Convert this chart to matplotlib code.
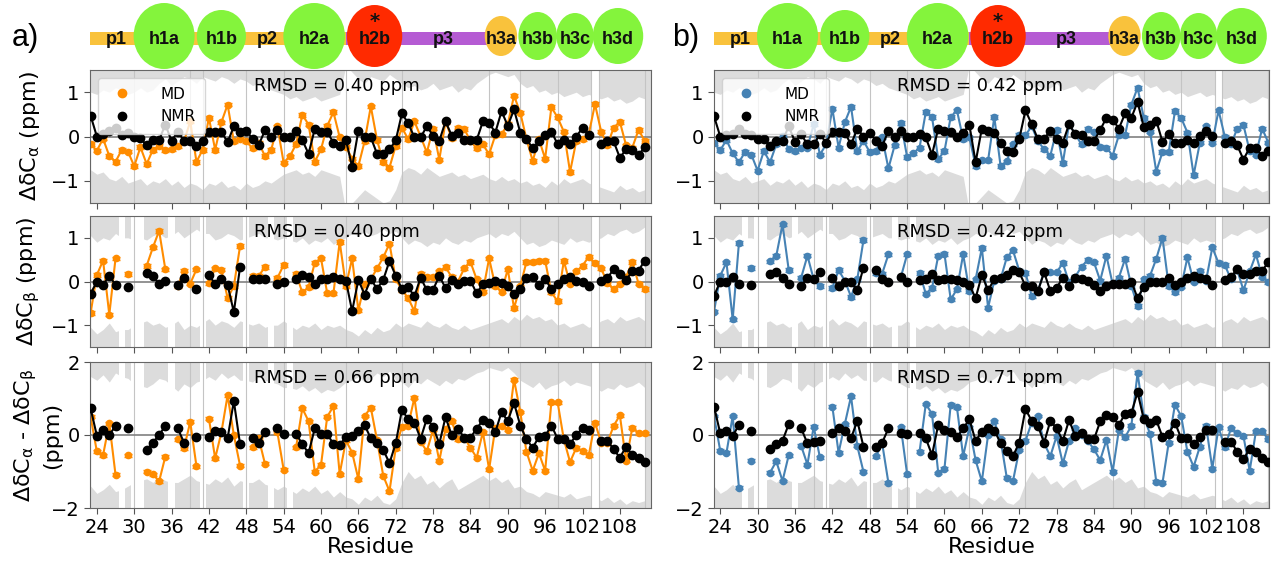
import numpy as np
import matplotlib.pyplot as plt
from matplotlib.patches import Ellipse, Rectangle
from matplotlib.lines import Line2D

nan = np.nan
residues = np.arange(23, 113)

# ---------- NMR (panel a) ----------
nmr_a_ca = [0.47, 0.0, 0.06, 0.13, 0.19, 0.03, 0.09, -0.02, -0.04, -0.2,
            -0.08, -0.08, 0.27, -0.1, 0.11, -0.1, -0.1, -0.21, -0.11, 0.11,
            0.11, 0.11, -0.13, 0.23, 0.11, 0.13, -0.05, -0.19, 0.14, -0.02,
            0.14, -0.02, -0.02, 0.13, -0.08, -0.39, 0.17, 0.11, 0.10, -0.14,
            -0.21, -0.08, -0.68, 0.13, 0.0, -0.02, -0.39, -0.39, -0.29, -0.09,
            0.52, 0.30, -0.02, -0.02, 0.23, 0.02, -0.1, 0.34, 0.02, 0.09,
            -0.08, -0.08, -0.08, 0.34, 0.30, 0.09, 0.57, 0.24, 0.61, 0.09,
            -0.05, -0.27, -0.11, 0.04, 0.11, -0.17, -0.08, -0.17, 0.0, 0.19,
            0.04, nan, -0.17, -0.11, -0.11, -0.48, -0.29, -0.30, -0.42, -0.24]
nmr_a_cb = [-0.28, 0.0, -0.08, 0.13, -0.08, nan, -0.13, nan, nan, 0.2,
            0.13, -0.06, 0.02, nan, -0.09, 0.08, nan, -0.17, nan, 0.14,
            -0.05, 0.05, -0.08, -0.70, 0.33, nan, 0.05, 0.05, 0.05, nan,
            -0.06, -0.02, nan, 0.06, 0.15, 0.10, -0.05, 0.05, 0.05, 0.11,
            0.05, 0.02, -0.68, 0.04, -0.30, 0.06, -0.17, 0.04, 0.47, 0.13,
            -0.17, -0.13, -0.34, 0.09, -0.2, -0.19, 0.13, -0.15, 0.04, -0.06,
            0.02, 0.02, -0.27, -0.06, -0.04, 0.02, -0.04, -0.1, -0.28, -0.17,
            0.08, 0.10, -0.08, 0.05, -0.17, -0.05, 0.05, 0.10, 0.02, 0.0,
            -0.11, nan, 0.02, 0.08, 0.28, 0.17, 0.04, 0.23, 0.25, 0.48]
nmr_a_diff = [0.73, -0.02, 0.14, 0.0, 0.25, nan, 0.2, nan, nan, -0.41,
              -0.21, 0.0, 0.25, nan, 0.18, -0.21, nan, -0.05, nan, -0.05,
              0.12, 0.09, -0.09, 0.93, -0.25, nan, -0.09, -0.23, 0.09, nan,
              0.18, 0.03, nan, 0.03, -0.25, -0.5, 0.18, 0.03, 0.03, -0.25,
              -0.27, -0.06, -0.03, 0.12, 0.27, -0.09, -0.23, -0.41, -0.77, -0.23,
              0.69, 0.43, 0.34, -0.1, 0.45, 0.23, -0.24, 0.49, -0.01, 0.17,
              -0.07, -0.07, 0.17, 0.41, 0.34, 0.08, 0.63, 0.38, 0.88, 0.26,
              -0.12, -0.35, -0.05, -0.03, 0.26, -0.1, -0.1, -0.24, -0.01, 0.2,
              0.14, nan, -0.16, -0.16, -0.39, -0.62, -0.32, -0.55, -0.62, -0.73]

# ---------- MD (panel a) ----------
md_a_ca = [-0.17, -0.32, -0.05, -0.44, -0.57, -0.3, -0.34, -0.67, -0.24, -0.62,
           -0.30, -0.21, -0.30, -0.29, -0.21, -0.11, 0.34, -0.57, -0.30, 0.42,
           -0.30, 0.32, 0.72, -0.11, -0.05, -0.11, -0.27, -0.15, -0.44, -0.30,
           0.23, -0.59, -0.45, -0.17, 0.49, 0.27, -0.57, -0.29, 0.24, 0.55,
           -0.02, -0.23, -0.5, -0.67, -0.11, 0.68, -0.08, -0.57, -0.70, -0.21,
           0.20, -0.06, 0.34, 0.0, -0.36, 0.18, -0.52, 0.33, -0.03, 0.20,
           0.17, -0.10, -0.27, -0.18, -0.40, 0.03, 0.05, 0.28, 0.92, 0.54,
           -0.06, -0.55, -0.06, -0.50, 0.66, 0.43, 0.11, -0.80, -0.10, -0.06,
           0.05, 0.73, 0.11, -0.20, 0.20, 0.33, -0.20, -0.25, 0.15, -0.10]
md_a_cb = [-0.72, 0.15, 0.48, -0.76, 0.53, nan, 0.17, nan, nan, 0.36,
           0.78, 1.16, 0.28, nan, -0.1, 0.25, -0.05, 0.28, nan, -0.04,
           0.30, 0.27, -0.38, -0.11, 0.81, nan, 0.13, 0.13, 0.33, nan,
           0.08, 0.38, nan, 0.17, -0.25, -0.13, 0.43, 0.53, -0.27, -0.27,
           0.91, -0.1, 0.53, -0.66, -0.05, 0.05, 0.3, 0.55, 0.87, 0.05,
           -0.19, -0.38, -0.68, 0.17, 0.10, 0.10, 0.23, 0.33, 0.10, 0.0,
           0.30, 0.45, 0.05, -0.23, 0.53, -0.11, -0.23, 0.28, -0.61, -0.11,
           0.45, 0.45, 0.48, 0.48, -0.25, -0.45, 0.47, -0.05, 0.23, 0.36,
           0.57, 0.42, 0.30, -0.04, -0.17, -0.05, 0.10, 0.45, -0.05, -0.17]
md_a_diff = [0.5, -0.45, -0.55, 0.32, -1.09, nan, -0.55, nan, nan, -1.0,
             -1.07, -1.27, -0.59, nan, -0.12, -0.36, 0.36, -0.86, nan, 0.45,
             -0.64, 0.07, 1.09, 0.0, -0.84, nan, -0.34, -0.09, -0.79, nan,
             0.07, -0.95, nan, -0.34, 0.73, 0.38, -1.0, -0.82, 0.5, 0.79,
             -1.07, -0.15, -0.48, -1.21, 0.52, 0.75, -0.14, -1.12, -1.54, -0.36,
             0.23, 0.26, 1.02, -0.19, -0.44, 0.14, -0.71, 0.17, 0.38, -0.12,
             -0.07, -0.35, -0.62, 0.08, -0.94, 0.2, 0.26, 0.15, 1.52, 0.63,
             -0.46, -0.98, -0.5, -0.98, 0.9, 0.9, -0.12, -0.74, -0.35, -0.44,
             -0.56, 0.34, -0.21, -0.21, 0.25, 0.54, -0.71, 0.2, 0.05, 0.05]

# ---------- NMR (panel b) ----------
nmr_b_ca = [0.46, 0.0, 0.03, 0.05, 0.18, 0.05, 0.03, -0.05, -0.05, -0.22,
            -0.1, -0.1, 0.23, -0.12, 0.05, -0.18, -0.18, 0.05, -0.14, 0.11,
            0.11, 0.09, -0.18, 0.18, 0.0, 0.09, -0.1, -0.22, 0.13, -0.02,
            0.13, -0.02, 0.0, 0.05, -0.02, -0.41, 0.18, 0.13, 0.11, 0.0,
            0.09, 0.26, -0.58, 0.18, 0.13, 0.09, -0.14, -0.33, -0.35, -0.06,
            0.59, 0.28, -0.06, -0.05, 0.13, -0.06, -0.14, 0.28, 0.05, 0.03,
            -0.1, -0.1, 0.15, 0.42, 0.38, 0.18, 0.52, 0.42, 0.78, 0.21,
            0.25, 0.36, -0.12, 0.05, -0.15, -0.15, -0.08, -0.15, 0.02, 0.13,
            0.02, nan, -0.15, -0.1, -0.2, -0.52, -0.25, -0.25, -0.45, -0.33]
nmr_b_cb = [-0.33, 0.0, -0.02, 0.11, -0.05, nan, -0.08, nan, nan, 0.18,
            0.21, 0.08, -0.05, nan, -0.1, 0.09, 0.05, 0.22, nan, 0.08,
            -0.1, -0.02, -0.02, -0.2, 0.32, nan, 0.26, 0.05, -0.02, nan,
            0.11, -0.02, nan, 0.03, 0.05, 0.18, 0.03, 0.05, 0.05, 0.03,
            -0.02, -0.08, -0.38, 0.15, -0.2, 0.05, 0.09, 0.15, 0.26, 0.21,
            -0.1, -0.1, -0.22, 0.21, -0.22, -0.15, 0.09, -0.1, 0.09, 0.05,
            0.02, -0.08, -0.22, -0.1, -0.06, -0.06, -0.06, 0.0, -0.38, -0.12,
            0.0, 0.0, 0.0, 0.09, -0.08, -0.02, 0.09, 0.13, 0.09, 0.05,
            -0.08, nan, 0.03, 0.11, 0.28, 0.18, 0.18, 0.25, 0.25, 0.44]
nmr_b_diff = [0.78, 0.05, 0.12, -0.03, 0.28, nan, 0.12, nan, nan, -0.37,
              -0.25, -0.16, 0.3, nan, 0.18, -0.23, -0.18, -0.16, nan, 0.05,
              0.18, 0.12, -0.09, 0.39, -0.32, nan, -0.34, -0.21, 0.18, nan,
              0.05, 0.03, nan, 0.05, -0.09, -0.55, 0.28, 0.14, 0.09, -0.06,
              0.18, 0.43, -0.16, 0.09, 0.18, 0.12, -0.21, -0.43, -0.58, -0.21,
              0.71, 0.39, 0.25, -0.21, 0.39, 0.18, -0.16, 0.41, -0.03, 0.06,
              -0.12, -0.12, 0.37, 0.55, 0.49, 0.28, 0.58, 0.6, 1.17, 0.43,
              0.32, 0.41, -0.05, 0.03, 0.34, -0.09, -0.09, -0.25, -0.06, 0.14,
              0.14, nan, -0.18, -0.18, -0.46, -0.67, -0.37, -0.46, -0.64, -0.73]

# ---------- MD (panel b) ----------
md_b_ca = [-0.15, -0.31, -0.08, -0.38, -0.58, -0.35, -0.41, -0.77, -0.33, -0.58,
           -0.18, 0.02, -0.29, -0.33, -0.25, -0.25, 0.28, -0.41, -0.18, 0.63,
           -0.25, 0.32, 0.67, -0.33, -0.1, -0.35, -0.33, -0.02, -0.72, -0.2,
           0.31, -0.46, -0.38, -0.25, 0.55, 0.44, -0.51, -0.33, 0.44, 0.59,
           -0.06, -0.02, -0.66, -0.54, -0.54, 0.44, -0.66, -0.56, -0.18, 0.03,
           0.03, 0.23, -0.1, -0.29, -0.43, 0.15, -0.6, 0.28, 0.05, -0.18,
           0.17, 0.11, -0.23, -0.25, -0.43, 0.03, 0.03, 0.72, 1.1, 0.42,
           0.11, -0.79, -0.35, -0.35, 0.57, 0.42, 0.09, -0.87, -0.14, 0.23,
           -0.14, 0.59, 0.0, -0.18, 0.18, 0.26, -0.33, -0.41, 0.18, -0.14]
md_b_cb = [-0.69, 0.13, 0.44, -0.87, 0.88, nan, 0.31, nan, nan, 0.46,
           0.59, 1.31, 0.26, nan, 0.09, 0.59, 0.05, -0.1, nan, -0.15,
           0.26, 0.02, -0.35, 0.05, 0.95, nan, 0.2, 0.18, 0.62, nan,
           0.1, 0.62, nan, 0.2, -0.28, -0.15, 0.59, 0.63, -0.41, -0.18,
           0.62, -0.22, 0.05, 0.77, -0.6, 0.02, 0.05, 0.55, 0.71, 0.25,
           0.2, -0.33, -0.22, 0.23, 0.21, 0.21, 0.42, -0.02, 0.11, 0.34,
           0.49, 0.44, 0.02, 0.59, -0.06, 0.09, 0.52, -0.1, -0.56, 0.05,
           0.13, 0.52, 1.0, -0.1, -0.25, -0.12, 0.55, 0.0, 0.25, 0.02,
           0.78, 0.42, 0.38, 0.05, 0.26, -0.2, 0.23, 0.62, 0.11, -0.02]
md_b_diff = [0.52, -0.43, -0.49, 0.52, -1.44, nan, -0.71, nan, nan, -1.03,
             -0.72, -1.26, -0.55, nan, -0.3, -0.81, 0.23, -0.61, nan, 0.78,
             -0.49, 0.3, 1.06, -0.3, -1.01, nan, -0.58, -0.23, -1.31, nan,
             0.21, -1.07, nan, -0.46, 0.85, 0.58, -1.04, -0.92, 0.83, 0.76,
             -0.58, 0.21, -0.69, -1.27, 0.0, 0.37, -0.12, -1.17, -1.26, -0.41,
             -0.16, 0.34, 0.52, -0.23, -0.58, -0.03, -0.78, -0.16, 0.18, 0.0,
             -0.16, -0.39, -0.69, -0.14, -1.01, 0.14, -0.06, 0.25, 1.7, 0.5,
             0.03, -1.28, -1.31, -0.21, 0.83, 0.52, -0.46, -0.87, -0.32, 0.25,
             -0.92, 0.21, -0.34, 0.18, 0.05, -0.03, -0.98, 0.1, 0.1, -0.12]
md_err = 0.04

# ---------- white bands (expected range) ----------
band_ca_up = [1.0, 0.95, 1.05, 1.0, 1.1, 1.05, 0.95, 1.0, 1.1, 1.0,
              1.05, 1.2, 1.3, 1.15, 1.25, 1.35, 1.3, 1.2, 1.35, 1.3,
              1.25, 1.35, 1.3, 1.2, 1.3, 1.25, 1.15, 1.2, 1.1, 1.05,
              1.0, 0.95, 0.85, 0.9, 0.8, 0.85, 0.9, 0.8, 0.85, 0.9,
              0.95, 1.6, 1.45, 1.3, 1.2, 1.35, 1.3, 1.25, 1.4, 1.3,
              1.2, 1.1, 1.15, 1.05, 1.1, 1.2, 1.05, 1.1, 1.15, 1.0,
              1.1, 1.05, 1.2, 1.3, 1.4, 1.45, 1.4, 1.35, 1.4, 1.2,
              1.1, 1.15, 1.0, 1.05, 0.95, 1.0, 0.9, 0.95, 1.0, 0.9,
              0.95, 0.9, 0.85, 0.9, 0.8, 0.85, 0.75, 0.8, 0.9, 0.85]
band_ca_lo = [-0.75, -0.85, -0.8, -0.95, -1.0, -0.9, -1.05, -1.0, -0.95, -1.1,
              -1.0, -1.05, -0.95, -1.1, -1.0, -1.15, -1.05, -1.1, -1.2, -1.05,
              -1.1, -1.0, -1.15, -1.1, -1.2, -1.05, -1.15, -1.1, -1.0, -1.05,
              -0.95, -0.85, -0.8, -0.75, -0.85, -0.8, -0.9, -0.75, -0.8, -0.85,
              -0.9, -1.7, -1.5, -1.35, -1.2, -1.3, -1.4, -1.5, -1.45, -1.2,
              -0.8, -0.7, -0.75, -0.85, -0.7, -0.8, -0.9, -0.85, -0.8, -0.9,
              -0.85, -0.95, -0.9, -0.85, -0.95, -1.0, -0.9, -1.0, -0.95, -1.05,
              -1.0, -1.1, -1.05, -1.15, -1.0, -1.1, -0.95, -1.05, -1.0, -0.95,
              -1.05, -1.1, -1.15, -1.2, -1.25, -1.1, -1.2, -1.15, -1.25, -1.2]
band_cb_up = [1.05, 0.9, 1.0, 0.95, 1.1, 1.0, 1.0, 0.95, 1.0, 0.95,
              1.05, 1.1, 1.0, 1.05, 1.15, 1.0, 1.1, 1.2, 1.1, 1.1,
              0.95, 1.0, 1.1, 1.05, 0.95, 1.0, 1.05, 1.1, 1.0, 1.0,
              0.95, 1.0, 0.95, 0.9, 1.0, 0.85, 0.95, 0.9, 1.0, 0.85,
              0.95, 1.0, 1.1, 1.05, 1.15, 1.05, 1.1, 1.2, 1.1, 1.15,
              1.0, 0.85, 0.95, 0.9, 0.8, 0.9, 0.85, 1.0, 0.9, 0.85,
              0.95, 0.9, 1.0, 1.05, 1.1, 1.0, 1.1, 1.05, 1.15, 1.0,
              0.85, 0.9, 0.8, 0.85, 0.95, 0.9, 0.85, 1.0, 0.9, 0.95,
              0.9, 0.95, 1.0, 1.1, 1.05, 1.15, 1.2, 1.1, 1.15, 1.25]
band_cb_lo = [-1.05, -1.2, -1.1, -0.95, -1.15, -1.1, -1.1, -1.0, -0.95, -0.9,
              -1.0, -0.95, -1.05, -1.0, -0.9, -1.1, -1.0, -1.05, -0.95, -0.85,
              -1.0, -0.9, -0.95, -1.05, -0.9, -0.95, -1.0, -0.95, -1.05, -1.0,
              -1.0, -0.9, -1.0, -1.1, -1.0, -1.05, -0.95, -1.1, -1.0, -1.05,
              -1.0, -1.1, -1.15, -1.25, -1.1, -1.2, -1.05, -1.15, -1.1, -0.95,
              -1.05, -0.95, -1.0, -1.05, -0.9, -1.0, -1.05, -0.95, -1.05, -1.1,
              -1.0, -1.1, -1.05, -1.0, -0.95, -0.9, -0.85, -0.95, -0.8, -0.9,
              -0.75, -0.85, -0.8, -0.9, -0.85, -1.0, -0.95, -1.05, -1.0, -0.95,
              -1.05, -1.0, -0.9, -0.85, -0.95, -0.8, -0.9, -0.85, -0.8, -0.9]
band_diff_up = [1.6, 1.5, 1.65, 1.45, 1.7, 1.6, 1.55, 1.4, 1.35, 1.3,
                1.4, 1.55, 1.5, 1.35, 1.2, 1.4, 1.3, 1.45, 1.5, 1.6,
                1.5, 1.7, 1.55, 1.65, 1.5, 1.5, 1.45, 1.6, 1.5, 1.45,
                1.4, 1.3, 1.3, 1.25, 1.35, 1.2, 1.3, 1.15, 1.25, 1.2,
                1.3, 1.45, 1.5, 1.6, 1.45, 1.55, 1.7, 1.6, 1.75, 1.5,
                1.45, 1.3, 1.5, 1.4, 1.55, 1.45, 1.35, 1.5, 1.4, 1.55,
                1.5, 1.6, 1.7, 1.75, 1.85, 1.8, 1.75, 1.85, 1.7, 1.5,
                1.4, 1.3, 1.45, 1.25, 1.35, 1.4, 1.5, 1.35, 1.45, 1.4,
                1.35, 1.3, 1.2, 1.3, 1.25, 1.4, 1.3, 1.35, 1.45, 1.3]
band_diff_lo = [-1.4, -1.6, -1.5, -1.35, -1.55, -1.5, -1.4, -1.3, -1.25, -1.2,
                -1.3, -1.15, -1.25, -1.3, -1.3, -1.2, -1.1, -1.25, -1.3, -1.35,
                -1.2, -1.3, -1.15, -1.4, -1.25, -1.3, -1.3, -1.2, -1.35, -1.4,
                -1.5, -1.4, -1.5, -1.6, -1.45, -1.55, -1.4, -1.6, -1.5, -1.7,
                -1.55, -1.7, -1.75, -1.9, -1.7, -1.8, -1.65, -1.85, -1.9, -1.75,
                -1.3, -1.0, -1.2, -1.1, -1.35, -1.25, -1.45, -1.3, -1.2, -1.5,
                -1.4, -1.3, -1.2, -1.1, -1.25, -1.15, -1.3, -1.2, -1.45, -1.4,
                -1.55, -1.6, -1.7, -1.55, -1.6, -1.65, -1.7, -1.6, -1.75, -1.7,
                -1.65, -1.7, -1.8, -1.7, -1.85, -1.75, -1.9, -1.8, -1.85, -1.8]

# residues with no C-beta (full-height white columns in rows 2 and 3)
gly_residues = [28, 30, 31, 36, 41, 48, 52, 55]
boundaries = [30, 39, 41, 48, 54, 64, 73, 87, 92, 98, 103.4, 104.6, 112]

rmsd_a = ['0.40', '0.40', '0.66']
rmsd_b = ['0.42', '0.42', '0.71']

# ---------- topology cartoon ----------
helix_names = ['h1a', 'h1b', 'h2a', 'h2b', 'h3a', 'h3b', 'h3c', 'h3d']
helix_centers = [34.8, 44.0, 58.9, 68.6, 88.9, 94.8, 100.8, 107.7]
helix_widths = [9.8, 7.9, 9.9, 8.9, 5.2, 6.2, 6.0, 8.1]
helix_heights = [66, 52, 66, 62, 40, 48, 46, 56]
helix_colors = ['#84f43c', '#84f43c', '#84f43c', '#ff2a00',
                '#f9c23c', '#84f43c', '#84f43c', '#84f43c']
loop_names = ['p1', 'p2', 'p3']
loop_centers = [27.2, 51.3, 79.6]
bar_starts = [22.9, 64.0]
bar_ends = [64.0, 88.0]
bar_colors = ['#f9c23c', '#b55bd3']

W, H = 1280, 561
fig = plt.figure(figsize=(W / 100, H / 100), dpi=100)

rows = [(70, 203), (216, 347), (362, 508)]
cols = [dict(left=90, right=651, xlim=(22.9, 113.0), color='#ff8c00',
             md=[md_a_ca, md_a_cb, md_a_diff], nmr=[nmr_a_ca, nmr_a_cb, nmr_a_diff],
             rmsd=rmsd_a, tag='a)', tagx=12, rmsdx=0.44),
        dict(left=714, right=1269, xlim=(23.0, 112.1), color='#4682b4',
             md=[md_b_ca, md_b_cb, md_b_diff], nmr=[nmr_b_ca, nmr_b_cb, nmr_b_diff],
             rmsd=rmsd_b, tag='b)', tagx=672, rmsdx=0.48)]
bands = [(band_ca_lo, band_ca_up), (band_cb_lo, band_cb_up), (band_diff_lo, band_diff_up)]
ylims = [(-1.5, 1.5), (-1.5, 1.5), (-2, 2)]
yticks = [[-1, 0, 1], [-1, 0, 1], [-2, 0, 2]]
ylabels = ['ΔδC$_\\mathregular{α}$ (ppm)',
           'ΔδC$_\\mathregular{β}$ (ppm)',
           'ΔδC$_\\mathregular{α}$ - ΔδC$_\\mathregular{β}$\n(ppm)']

for c in cols:
    fl = c['left'] / W
    fw = (c['right'] - c['left']) / W

    # cartoon
    cax = fig.add_axes([fl, 1 - 72 / H, fw, 72 / H])
    cax.set_xlim(*c['xlim'])
    cax.set_ylim(72, 0)
    cax.axis('off')
    for s, e, col in zip(bar_starts, bar_ends, bar_colors):
        cax.add_patch(Rectangle((s, 31.5), e - s, 13, color=col, lw=0))
    for name, xc in zip(loop_names, loop_centers):
        cax.text(xc, 39, name, ha='center', va='center', fontsize=13,
                 fontweight='bold', family='Liberation Sans', color='#111111')
    for name, xc, w, h, col in zip(helix_names, helix_centers, helix_widths,
                                   helix_heights, helix_colors):
        cax.add_patch(Ellipse((xc, 36), w, h, color=col, lw=0))
        cax.text(xc, 39, name, ha='center', va='center', fontsize=13,
                 fontweight='bold', family='Liberation Sans', color='#111111')
        if name == 'h2b':
            cax.text(xc, 22, '*', ha='center', va='center', fontsize=14,
                     fontweight='bold', color='#111111')
    fig.text(c['tagx'] / W, 1 - 38 / H, c['tag'], fontsize=22, va='center',
             ha='left', family='Liberation Sans')

    for i, (top, bot) in enumerate(rows):
        ax = fig.add_axes([fl, 1 - bot / H, fw, (bot - top) / H])
        ax.set_facecolor('#dcdcdc')
        lo, up = bands[i]
        ax.fill_between(residues, lo, up, color='white', lw=0, zorder=0.2)
        if i > 0:
            for g in gly_residues:
                ax.axvspan(g - 0.5, g + 0.5, color='white', lw=0, zorder=0.3)
        ax.axvspan(103.4, 104.6, color='white', lw=0, zorder=0.3)
        for b in boundaries:
            ax.axvline(b, color='#c4c4c4', lw=0.8, zorder=0.5)
        ax.axhline(0, color='#808080', lw=1.2, zorder=1)
        ax.errorbar(residues, c['md'][i], yerr=md_err, fmt='-o', color=c['color'],
                    ms=4.5, lw=1.5, elinewidth=1, capsize=3, capthick=1, zorder=2)
        ax.plot(residues, c['nmr'][i], '-o', color='black', ms=6, lw=1.5, zorder=3)
        ax.set_xlim(*c['xlim'])
        ax.set_ylim(*ylims[i])
        ax.set_yticks(yticks[i])
        ax.set_xticks(np.arange(24, 109, 6))
        ax.tick_params(labelsize=14, color='#555555', length=4)
        for sp in ax.spines.values():
            sp.set_color('#666666')
        if i < 2:
            ax.set_xticklabels([])
        else:
            ax.set_xlabel('Residue', fontsize=16, labelpad=0)
        ax.text(c['rmsdx'], 0.95, 'RMSD = %s ppm' % c['rmsd'][i],
                transform=ax.transAxes, ha='center', va='top', fontsize=13)
        if c['tag'] == 'a)':
            ax.set_ylabel(ylabels[i], fontsize=16)
            ax.yaxis.set_label_coords(-0.085 if i < 2 else -0.05, 0.5)
        if i == 0:
            handles = [Line2D([], [], marker='o', ls='', color=c['color'], ms=6),
                       Line2D([], [], marker='o', ls='', color='black', ms=6)]
            ax.legend(handles, ['MD', 'NMR'], loc='upper left', fontsize=11,
                      handletextpad=1.5, borderpad=0.6, framealpha=0.8)

fig.savefig('out.png', dpi=100)
